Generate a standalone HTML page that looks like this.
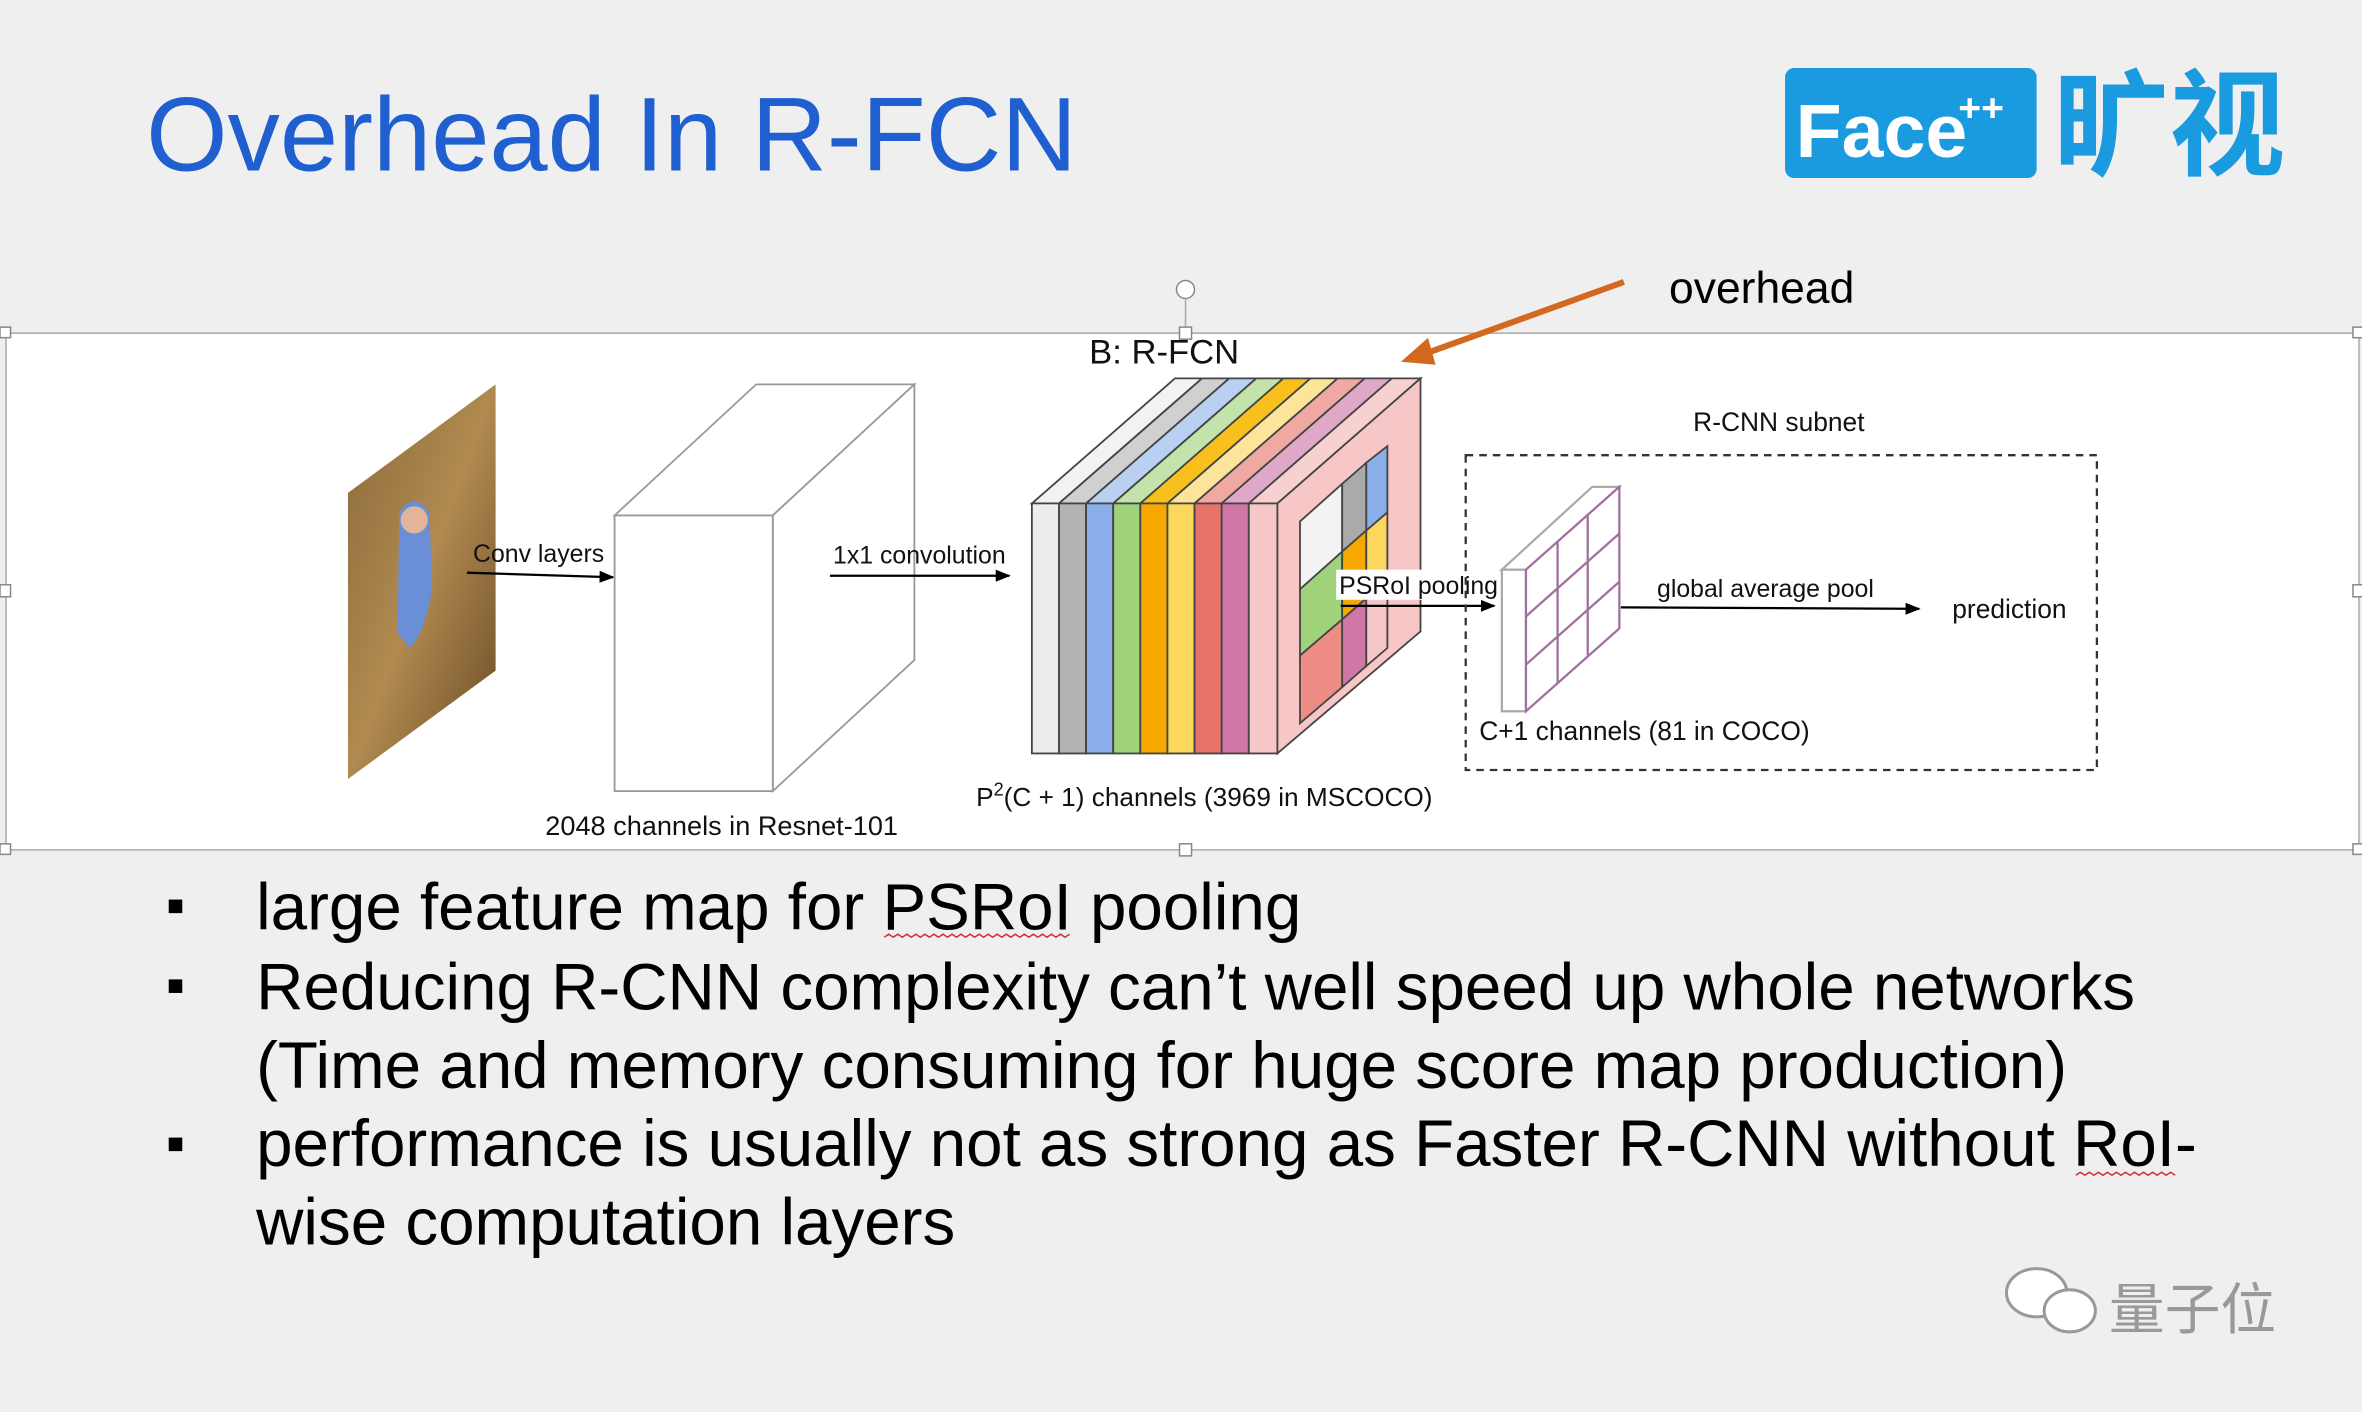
<!DOCTYPE html>
<html><head><meta charset="utf-8"><style>
html,body{margin:0;padding:0;background:#efefef;}
svg{display:block}
text{font-family:"Liberation Sans","Noto Sans CJK SC",sans-serif;}
</style></head><body>
<svg width="2362" height="1412" viewBox="0 0 1568 937" xmlns="http://www.w3.org/2000/svg">
<defs>
<marker id="ah" markerWidth="10" markerHeight="8" refX="9" refY="4" orient="auto" markerUnits="userSpaceOnUse"><path d="M0,0 L10,4 L0,8 Z" fill="#000"/></marker>
<linearGradient id="ph" x1="0" y1="0" x2="1" y2="1"><stop offset="0" stop-color="#8a6a3a"/><stop offset="0.5" stop-color="#b08a50"/><stop offset="1" stop-color="#6a4a25"/></linearGradient>
</defs>
<rect width="1568" height="937" fill="#efefef"/>
<text x="97" y="113" font-size="69.5" fill="#1f5fcf">Overhead In R-FCN</text>
<rect x="1185" y="45" width="167" height="73" rx="6" fill="#1a9be0"/>
<text x="1192" y="104" font-size="50" font-weight="bold" fill="#fff">Face</text>
<text x="1300" y="80" font-size="26" font-weight="bold" fill="#fff">++</text>
<text x="1363" y="110" font-size="77" font-weight="bold" fill="#1a9be0">旷视</text>
<!-- frame -->
<rect x="4" y="221" width="1562" height="343" fill="#fff" stroke="#aaa" stroke-width="1"/>
<circle cx="787" cy="192" r="6" fill="#fff" stroke="#888"/>
<line x1="787" y1="198" x2="787" y2="217" stroke="#aaa"/>
<g fill="#fff" stroke="#888"><rect x="783" y="217" width="8" height="8"/><rect x="783" y="560" width="8" height="8"/><rect x="0" y="217" width="7" height="7"/><rect x="1562" y="217" width="7" height="7"/><rect x="0" y="388" width="7" height="8"/><rect x="1562" y="388" width="7" height="8"/><rect x="0" y="560" width="7" height="7"/><rect x="1562" y="560" width="7" height="7"/></g>
<!-- orange arrow -->
<line x1="1078" y1="187" x2="945" y2="235" stroke="#d2691e" stroke-width="4"/>
<path d="M930,240 L948,224 L953,242 Z" fill="#d2691e"/>
<text x="1108" y="201" font-size="29.5" fill="#000">overhead</text>
<text x="723" y="241" font-size="23" fill="#111">B: R-FCN</text>
<!-- photo -->
<polygon points="231,327 329,255 329,445 231,517" fill="url(#ph)"/>
<path d="M265,340 q10,-15 20,0 l2,50 q-5,30 -15,40 l-8,-10 z" fill="#6b8fd6"/>
<circle cx="275" cy="345" r="9" fill="#e2b49a"/>
<text x="314" y="373" font-size="16.5" fill="#111">Conv layers</text>
<line x1="310" y1="380" x2="407" y2="383" stroke="#000" stroke-width="1.5" marker-end="url(#ah)"/>
<!-- white cube -->
<g fill="#fff" stroke="#999" stroke-width="1.2">
<polygon points="408,342 502,255 607,255 513,342"/>
<polygon points="513,342 607,255 607,438 513,525"/>
<rect x="408" y="342" width="105" height="183"/>
</g>
<text x="362" y="554" font-size="18" fill="#111">2048 channels in Resnet-101</text>
<text x="553" y="374" font-size="16.5" fill="#111">1x1 convolution</text>
<line x1="551" y1="382" x2="670" y2="382" stroke="#000" stroke-width="1.5" marker-end="url(#ah)"/>
<!-- colored cube -->
<g stroke="#444" stroke-width="1.2">
<polygon points="685,334 780,251 798,251 703,334" fill="#f2f2f2"/>
<polygon points="703,334 798,251 816,251 721,334" fill="#d0d0d0"/>
<polygon points="721,334 816,251 834,251 739,334" fill="#b9d0f3"/>
<polygon points="739,334 834,251 852,251 757,334" fill="#c4e3ab"/>
<polygon points="757,334 852,251 870,251 775,334" fill="#f8c01c"/>
<polygon points="775,334 870,251 888,251 793,334" fill="#fce59a"/>
<polygon points="793,334 888,251 906,251 811,334" fill="#f0a8a2"/>
<polygon points="811,334 906,251 924,251 829,334" fill="#e0a8c8"/>
<polygon points="829,334 924,251 943,251 848,334" fill="#f9d0d0"/>
<rect x="685" y="334" width="18" height="166" fill="#ececec"/>
<rect x="703" y="334" width="18" height="166" fill="#b3b3b3"/>
<rect x="721" y="334" width="18" height="166" fill="#8aaee8"/>
<rect x="739" y="334" width="18" height="166" fill="#9fd27a"/>
<rect x="757" y="334" width="18" height="166" fill="#f7a800"/>
<rect x="775" y="334" width="18" height="166" fill="#fcd75e"/>
<rect x="793" y="334" width="18" height="166" fill="#e8736a"/>
<rect x="811" y="334" width="18" height="166" fill="#d077a8"/>
<rect x="829" y="334" width="19" height="166" fill="#f7c6c6"/>
<polygon points="848,334 943,251 943,419 848,500" fill="#f7c6c6"/>
</g>
<!-- grid on right face -->
<g stroke="#444" stroke-width="1.2">
<polygon points="863,346 891,321 891,366 863,391" fill="#f3f3f3"/>
<polygon points="891,321 907,307 907,352 891,366" fill="#aaa"/>
<polygon points="907,307 921,296 921,340 907,352" fill="#8aaee8"/>
<polygon points="863,391 891,366 891,411 863,435" fill="#9fd27a"/>
<polygon points="891,366 907,352 907,397 891,411" fill="#f7a800"/>
<polygon points="907,352 921,340 921,384 907,397" fill="#fcd75e"/>
<polygon points="863,435 891,411 891,456 863,480" fill="#ee8c86"/>
<polygon points="891,411 907,397 907,442 891,456" fill="#d077a8"/>
<polygon points="907,397 921,384 921,430 907,442" fill="#f7c6c6"/>
</g>
<text x="648" y="535" font-size="17.4" fill="#111">P<tspan font-size="12" dy="-7">2</tspan><tspan dy="7">(C + 1)  channels (3969 in MSCOCO)</tspan></text>
<rect x="887" y="378" width="110" height="20" fill="#fff"/>
<text x="889" y="394" font-size="16.5" fill="#111">PSRoI pooling</text>
<line x1="890" y1="402" x2="992" y2="402" stroke="#000" stroke-width="1.5" marker-end="url(#ah)"/>
<!-- R-CNN subnet -->
<text x="1124" y="286" font-size="17.5" fill="#111">R-CNN subnet</text>
<rect x="973" y="302" width="419" height="209" fill="none" stroke="#333" stroke-width="1.5" stroke-dasharray="5,4"/>
<g stroke="#a070a0" stroke-width="1.5" fill="#fff">
<polygon points="997,378 1057,323 1075,323 1013,378" fill="#fff" stroke="#aaa"/>
<rect x="997" y="378" width="16" height="94" stroke="#aaa"/>
<polygon points="1013,378 1075,323 1075,417 1013,472"/>
<line x1="1034" y1="359" x2="1034" y2="453"/><line x1="1054" y1="341" x2="1054" y2="435"/>
<line x1="1013" y1="409" x2="1075" y2="354"/><line x1="1013" y1="441" x2="1075" y2="386"/>
</g>
<text x="1100" y="396" font-size="16.5" fill="#111">global average pool</text>
<line x1="1076" y1="403" x2="1274" y2="404" stroke="#000" stroke-width="1.5" marker-end="url(#ah)"/>
<text x="1296" y="410" font-size="17.5" fill="#111">prediction</text>
<text x="982" y="491" font-size="17.5" fill="#111">C+1 channels (81 in COCO)</text>
<!-- bullets -->
<g font-size="43.5" fill="#000">
<rect x="112" y="597" width="9" height="9"/><rect x="112" y="650" width="9" height="9"/><rect x="112" y="755" width="9" height="9"/>
<text x="170" y="617">large feature map for PSRoI pooling</text>
<text x="170" y="670">Reducing R-CNN complexity can’t well speed up whole networks</text>
<text x="170" y="722">(Time and memory consuming for huge score map production)</text>
<text x="170" y="774">performance is usually not as strong as Faster R-CNN without RoI-</text>
<text x="170" y="826">wise computation layers</text>
</g>
<path d="M587,622 l3,-2 l3,2 l3,-2 l3,2 l3,-2 l3,2 l3,-2 l3,2 l3,-2 l3,2 l3,-2 l3,2 l3,-2 l3,2 l3,-2 l3,2 l3,-2 l3,2 l3,-2 l3,2 l3,-2 l3,2 l3,-2 l3,2 l3,-2 l3,2 l3,-2 l3,2 l3,-2 l3,2 l3,-2 l3,2 l3,-2 l3,2 l3,-2 l3,2 l3,-2 l3,2 l3,-2 l3,2 l3,-2" fill="none" stroke="#c33" stroke-width="1"/>
<path d="M1378,780 l3,-2 l3,2 l3,-2 l3,2 l3,-2 l3,2 l3,-2 l3,2 l3,-2 l3,2 l3,-2 l3,2 l3,-2 l3,2 l3,-2 l3,2 l3,-2 l3,2 l3,-2 l3,2 l3,-2 l3,2" fill="none" stroke="#c33" stroke-width="1"/>
<!-- watermark -->
<ellipse cx="1352" cy="858" rx="20" ry="16" fill="#fff" stroke="#999" stroke-width="2"/>
<ellipse cx="1374" cy="870" rx="17" ry="14" fill="#fff" stroke="#999" stroke-width="2"/>
<text x="1400" y="882" font-size="37" fill="#999">量子位</text>
</svg>
</body></html>
